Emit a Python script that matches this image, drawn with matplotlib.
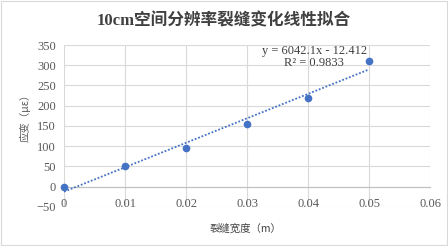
import matplotlib
matplotlib.use('Agg')
import matplotlib.pyplot as plt
import numpy as np
from matplotlib.patches import Rectangle

# crack width (m) vs strain (micro-epsilon)
crack_width = [0, 0.01, 0.02, 0.03, 0.04, 0.05]
strain = [0, 52, 95, 155, 220, 310]
x_ticks = [0, 0.01, 0.02, 0.03, 0.04, 0.05, 0.06]
x_tick_labels = ['0', '0.01', '0.02', '0.03', '0.04', '0.05', '0.06']
y_ticks = [-50, 0, 50, 100, 150, 200, 250, 300, 350]
fit_slope = 6042.1
fit_intercept = -12.412
fit_r2 = 0.9833

title = '10cm空间分辨率裂缝变化线性拟合'
x_label = '裂缝宽度（m）'
y_label = '应变（με）'

serif = ['Liberation Serif', 'Noto Sans CJK SC']
cjk = ['Noto Sans CJK SC', 'Liberation Serif']
blue = '#4472C4'
grid_grey = '#d9d9d9'
text_grey = '#595959'

fig = plt.figure(figsize=(4.48, 2.46), dpi=100)
ax = fig.add_axes([0.143, 0.159, 0.817, 0.658])

# trendline
xs = np.array([crack_width[0], crack_width[-1]])
ax.plot(xs, fit_slope * xs + fit_intercept, linestyle=(0, (1, 1)), color=blue, linewidth=1.3, zorder=3)
ax.plot(crack_width, strain, 'o', color=blue, markersize=4.5, zorder=4, clip_on=False)

ax.set_xlim(0, 0.06)
ax.set_ylim(-50, 350)
ax.set_xticks(x_ticks)
ax.set_xticklabels(x_tick_labels)
ax.set_yticks(y_ticks)
ax.grid(True, color=grid_grey, linewidth=0.8)
ax.set_axisbelow(True)

for side in ['top', 'right', 'left']:
    ax.spines[side].set_visible(False)
ax.spines['bottom'].set_position(('data', 0))
ax.spines['bottom'].set_color('#bfbfbf')
ax.spines['bottom'].set_linewidth(0.8)
ax.tick_params(axis='both', length=0, labelsize=9, labelcolor=text_grey)
ax.tick_params(axis='x', pad=8)
ax.tick_params(axis='y', pad=6)
for lbl in ax.get_xticklabels() + ax.get_yticklabels():
    lbl.set_family(serif)

ax.text(0.041, 336, 'y = %.1fx - %.3f' % (fit_slope, -fit_intercept), family=serif,
        fontsize=9, color='#404040', ha='center', va='center')
ax.text(0.041, 305, 'R² = %.4f' % fit_r2, family=serif,
        fontsize=9, color='#404040', ha='center', va='center')

fig.text(0.5, 0.915, title, family=serif, fontsize=12, fontweight='bold',
         color='#404040', ha='center', va='center')
fig.text(0.547, 0.072, x_label, family=cjk, fontsize=7.5, color='#404040',
         ha='center', va='center')
fig.text(0.056, 0.53, y_label, family=cjk, fontsize=7.5, color=text_grey,
         ha='center', va='center', rotation=90)

fig.add_artist(Rectangle((0.003, 0.004), 0.994, 0.992, transform=fig.transFigure,
                         fill=False, edgecolor='#d9d9d9', linewidth=0.8))

fig.savefig('out.png', dpi=100)
